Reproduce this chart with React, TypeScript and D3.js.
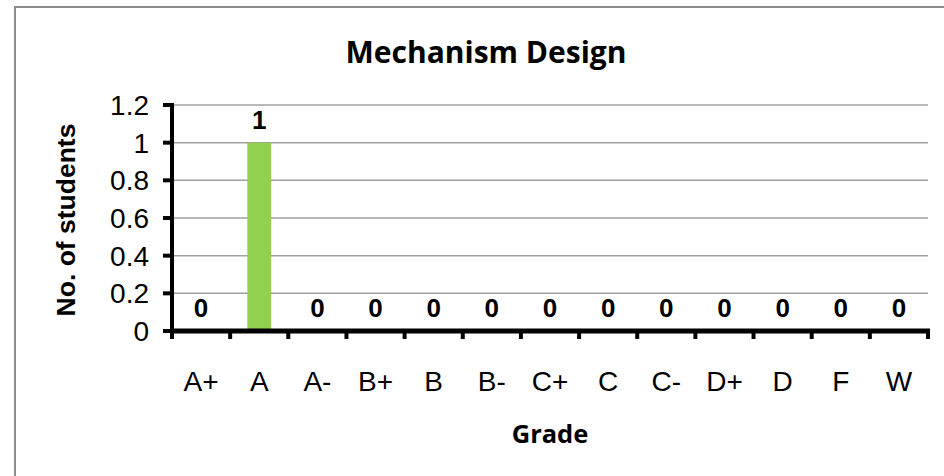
import React from "react";
import * as d3 from "d3";

const categories = ["A+", "A", "A-", "B+", "B", "B-", "C+", "C", "C-", "D+", "D", "F", "W"];
const values = [0, 1, 0, 0, 0, 0, 0, 0, 0, 0, 0, 0, 0];
const yTicks = [0, 0.2, 0.4, 0.6, 0.8, 1, 1.2];
const title = "Mechanism Design";
const xTitle = "Grade";
const yTitle = "No. of students";

export default function App() {
  const W = 944, H = 476;
  const left = 172, right = 928, top = 105, bottom = 331;
  const x = d3.scaleBand<string>().domain(categories).range([left, right]).paddingInner(0.59).paddingOuter(0.295);
  const xb = d3.scaleBand<string>().domain(categories).range([left, right]);
  const y = d3.scaleLinear().domain([0, 1.2]).range([bottom, top]);
  const arial = "Arial, 'Liberation Sans', sans-serif";
  const calibri = "'Open Sans', sans-serif";
  return (
    <svg width={W} height={H} style={{ position: "absolute", left: 0, top: 0 }}>
      <rect x={0} y={0} width={W} height={H} fill="#fff" />
      <rect x={15} y={7} width={W + 20} height={H + 20} fill="none" stroke="#8c8c8c" strokeWidth={2} />
      <text x={486} y={63} textAnchor="middle" fontFamily={calibri} fontWeight="bold" fontSize={30}>{title}</text>
      {yTicks.filter(t => t > 0).map(t => (
        <line key={t} x1={left} x2={right} y1={y(t)} y2={y(t)} stroke="#a0a0a0" strokeWidth={1.5} />
      ))}
      {categories.map((c, i) => (
        <rect key={c} x={x(c)!} y={y(values[i])} width={x.bandwidth()} height={bottom - y(values[i])} fill="#92D050" />
      ))}
      <line x1={left} x2={left} y1={top - 2} y2={bottom + 2} stroke="#000" strokeWidth={4} />
      {yTicks.map(t => (
        <g key={t}>
          <line x1={left - 9} x2={left} y1={y(t)} y2={y(t)} stroke="#000" strokeWidth={4} />
          <text x={left - 23} y={y(t) + 10} textAnchor="end" fontFamily={arial} fontSize={28}>{t}</text>
        </g>
      ))}
      <line x1={left - 2} x2={right + 2} y1={bottom} y2={bottom} stroke="#000" strokeWidth={5} />
      {categories.map(c => (
        <line key={"t" + c} x1={xb(c)!} x2={xb(c)!} y1={bottom} y2={bottom + 8} stroke="#000" strokeWidth={4} />
      ))}
      <line x1={right} x2={right} y1={bottom} y2={bottom + 8} stroke="#000" strokeWidth={4} />
      {categories.map((c, i) => (
        <text key={"l" + c} x={xb(c)! + xb.bandwidth() / 2} y={bottom + 60} textAnchor="middle" fontFamily={arial} fontSize={28}>{c}</text>
      ))}
      {categories.map((c, i) => (
        <text key={"v" + c} x={xb(c)! + xb.bandwidth() / 2} y={y(values[i]) - 14} textAnchor="middle" fontFamily={arial} fontWeight="bold" fontSize={26}>{values[i]}</text>
      ))}
      <text x={(left + right) / 2} y={443} textAnchor="middle" fontFamily={calibri} fontWeight="bold" fontSize={25.5}>{xTitle}</text>
      <text transform={`translate(75,${(top + bottom) / 2 + 2}) rotate(-90)`} textAnchor="middle" fontFamily={arial} fontWeight="bold" fontSize={26.5}>{yTitle}</text>
    </svg>
  );
}
